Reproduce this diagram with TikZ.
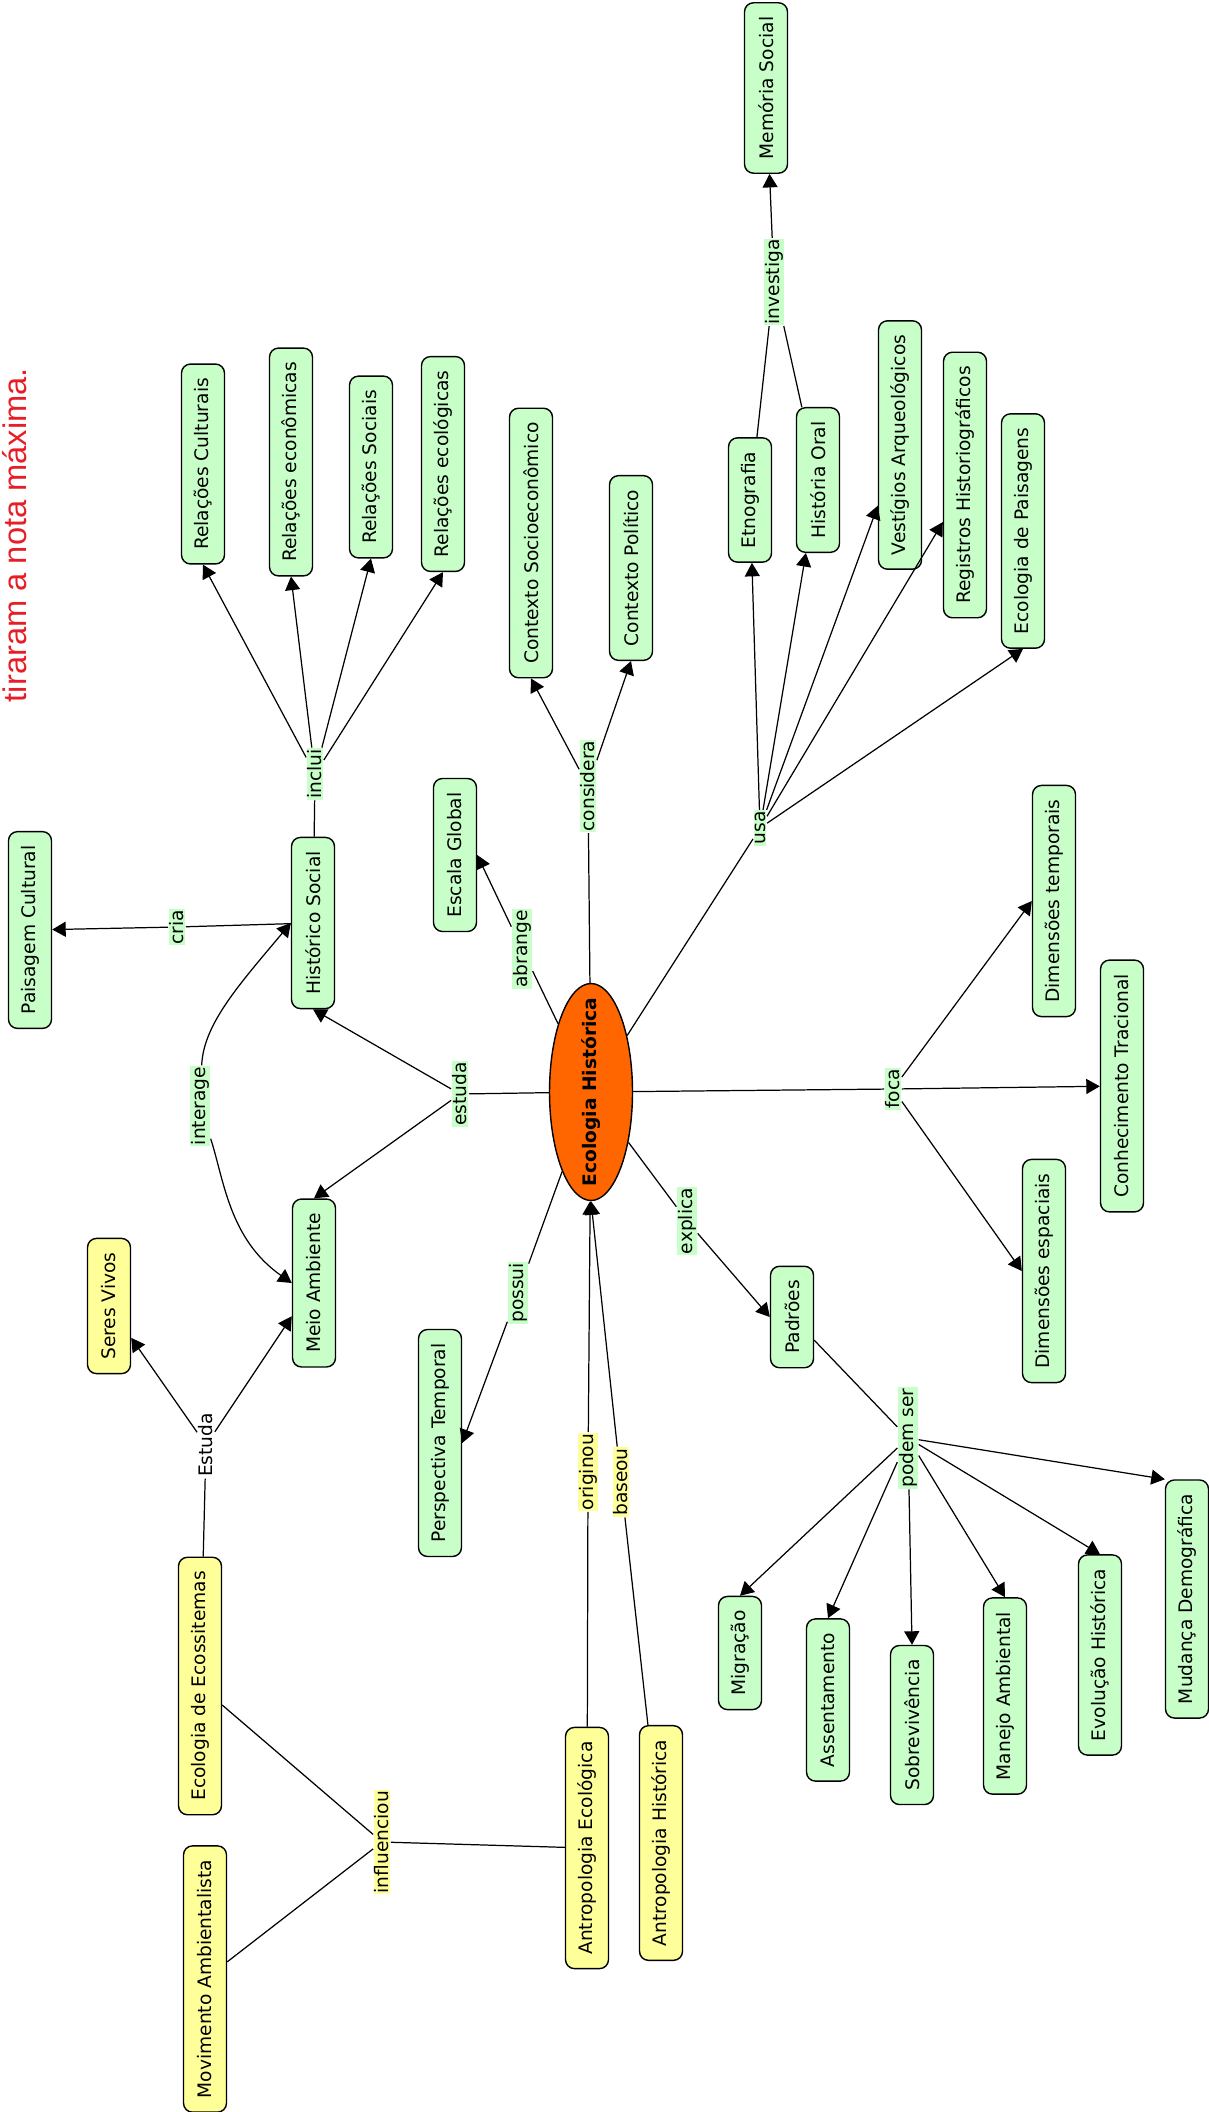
\documentclass[tikz,border=0pt]{standalone}
\usepackage{fontspec}
\setmainfont{DejaVu Sans}
\newfontfamily\titlefont{Liberation Sans}
\usepackage{tikz}
\usetikzlibrary{arrows.meta,shapes.geometric}
\definecolor{cgreen}{RGB}{200,255,200}
\definecolor{cyellow}{RGB}{255,255,153}
\definecolor{corange}{RGB}{255,102,0}
\definecolor{cred}{RGB}{230,30,40}

\begin{document}
\begin{tikzpicture}[
        x=0.02cm, y=0.02cm,
        line width=0.7pt,
        font=\fontsize{10.6}{12}\selectfont,
        concept/.style={
            draw, rounded corners=0.18cm, fill=cgreen, rotate=90,
            minimum height=0.86cm, inner xsep=0.28cm, line width=0.8pt
        },
        oldconcept/.style={concept, fill=cyellow},
        hub/.style={
            ellipse, draw, fill=corange, rotate=90, inner ysep=0pt, inner xsep=-0.35cm,
            minimum width=4.34cm, minimum height=1.66cm, line width=0.8pt,
            font=\fontsize{10.6}{12}\selectfont\bfseries
        },
        link/.style={fill=cgreen, rotate=90, inner sep=0.6pt},
        oldlink/.style={link, fill=cyellow},
        arr/.style={-{Triangle[length=0.27cm,width=0.3cm]}}
    ]

        \useasboundingbox (0,0) rectangle (1208,-2112);

        \node[rotate=90, text=cred, font=\titlefont\fontsize{18.6}{20}\selectfont, inner sep=0pt, anchor=base] (title) at (26.5,-535) {tiraram a nota máxima.};

        \node[hub] (eh) at (591,-1092) {Ecologia Histórica};

        \node[concept] (relcult) at (203,-464) {Relações Culturais};
        \node[concept] (releco) at (291,-462) {Relações econômicas};
        \node[concept] (relsoc) at (371,-467) {Relações Sociais};
        \node[concept] (relecol) at (443,-464) {Relações ecológicas};
        \node[concept] (ctxsocio) at (531,-543) {Contexto Socioeconômico};
        \node[concept] (ctxpol) at (631,-568) {Contexto Político};
        \node[concept] (memoria) at (766,-88) {Memória Social};
        \node[concept] (etno) at (750,-500) {Etnografia};
        \node[concept] (historal) at (818,-480) {História Oral};
        \node[concept] (vestigios) at (900,-445) {Vestígios Arqueológicos};
        \node[concept] (registros) at (965,-485) {Registros Historiográficos};
        \node[concept] (ecopais) at (1023,-531) {Ecologia de Paisagens};
        \node[concept] (paisagem) at (30,-930) {Paisagem Cultural};
        \node[concept] (histsoc) at (313,-923) {Histórico Social};
        \node[concept] (escala) at (455,-855) {Escala Global};
        \node[concept] (meio) at (314,-1283) {Meio Ambiente};
        \node[oldconcept] (seres) at (109,-1306) {Seres Vivos};
        \node[concept] (dimtemp) at (1054,-901) {Dimensões temporais};
        \node[concept] (conhec) at (1122,-1086) {Conhecimento Tracional};
        \node[concept] (dimesp) at (1044,-1271) {Dimensões espaciais};
        \node[concept] (padroes) at (792,-1317) {Padrões};
        \node[concept] (perspec) at (440,-1443) {Perspectiva Temporal};
        \node[oldconcept] (ecoecos) at (200,-1686) {Ecologia de Ecossitemas};
        \node[oldconcept] (movimento) at (205,-1979) {Movimento Ambientalista};
        \node[oldconcept] (antroeco) at (587,-1848) {Antropologia Ecológica};
        \node[oldconcept] (antrohist) at (661,-1843) {Antropologia Histórica};
        \node[concept] (migracao) at (740,-1653) {Migração};
        \node[concept] (assent) at (828,-1700) {Assentamento};
        \node[concept] (sobrev) at (912,-1725) {Sobrevivência};
        \node[concept] (manejo) at (1005,-1696) {Manejo Ambiental};
        \node[concept] (evolucao) at (1100,-1655) {Evolução Histórica};
        \node[concept] (mudanca) at (1187,-1599) {Mudança Demográfica};

        \node[link] (inclui) at (315,-774) {inclui};
        \node[link] (considera) at (588,-786) {considera};
        \node[link] (abrange) at (522,-949) {abrange};
        \node[link] (cria) at (177,-927) {cria};
        \node[link] (interage) at (200,-1106) {interage};
        \node[link] (estuda) at (460,-1094) {estuda};
        \node[link] (possui) at (518,-1293) {possui};
        \node[link] (explica) at (687,-1221) {explica};
        \node[link] (usa) at (760,-828) {usa};
        \node[link] (investiga) at (774,-282) {investiga};
        \node[link] (foca) at (893,-1089) {foca};
        \node[link] (podem) at (908,-1438) {podem ser};
        \node[link, fill=white] (estuda2) at (206,-1445) {Estuda};
        \node[oldlink] (originou) at (588,-1472) {originou};
        \node[oldlink] (baseou) at (621,-1482) {baseou};
        \node[oldlink] (influenciou) at (382,-1842) {influenciou};

        \draw (histsoc) -- (inclui);
        \draw[arr] (inclui) -- (relcult.west);
        \draw[arr] (inclui) -- (releco.west);
        \draw[arr] (inclui) -- (relsoc.west);
        \draw[arr] (inclui) -- (relecol.west);

        \draw (eh) -- (considera);
        \draw[arr] (considera) -- (ctxsocio.west);
        \draw[arr] (considera) -- (ctxpol.west);

        \draw (eh) -- (abrange);
        \draw[arr] (abrange) -- (escala.south);

        \draw (eh) -- (usa);
        \draw[arr] (usa) -- (etno);
        \draw[arr] (usa) -- (historal);
        \draw[arr] (usa) -- (vestigios);
        \draw[arr] (usa) -- (registros);
        \draw[arr] (usa) -- (ecopais.west);

        \draw (etno) -- (investiga);
        \draw (historal) -- (investiga);
        \draw[arr] (investiga) -- (memoria);

        \draw (histsoc) -- (cria);
        \draw[arr] (cria) -- (paisagem);

        \draw[arr] (interage) to[out=80,in=230] (histsoc.north);
        \draw[arr] (interage) to[out=-80,in=145] (meio.north);

        \draw (eh) -- (estuda);
        \draw[arr] (estuda) -- (histsoc.west);
        \draw[arr] (estuda) -- (meio.east);

        \draw (eh) -- (possui);
        \draw[arr] (possui) -- (perspec.south);

        \draw (eh) -- (explica);
        \draw[arr] (explica) -- (padroes.north);

        \draw (eh) -- (foca);
        \draw[arr] (foca) -- (dimtemp.north);
        \draw[arr] (foca) -- (conhec);
        \draw[arr] (foca) -- (dimesp.north);

        \draw (padroes) -- (podem);
        \draw[arr] (podem) -- (migracao.east);
        \draw[arr] (podem) -- (assent.east);
        \draw[arr] (podem) -- (sobrev.east);
        \draw[arr] (podem) -- (manejo.east);
        \draw[arr] (podem) -- (evolucao.east);
        \draw[arr] (podem) -- (mudanca.north east);

        \draw (ecoecos) -- (estuda2);
        \draw[arr] (estuda2) -- (seres);
        \draw[arr] (estuda2) -- (meio);

        \draw (ecoecos) -- (influenciou);
        \draw (movimento) -- (influenciou);
        \draw (influenciou) -- (antroeco);

        \draw (antroeco) -- (originou);
        \draw[arr] (originou) -- (eh);
        \draw (antrohist) -- (baseou);
        \draw[arr] (baseou) -- (eh.west);
    \end{tikzpicture}
\end{document}
